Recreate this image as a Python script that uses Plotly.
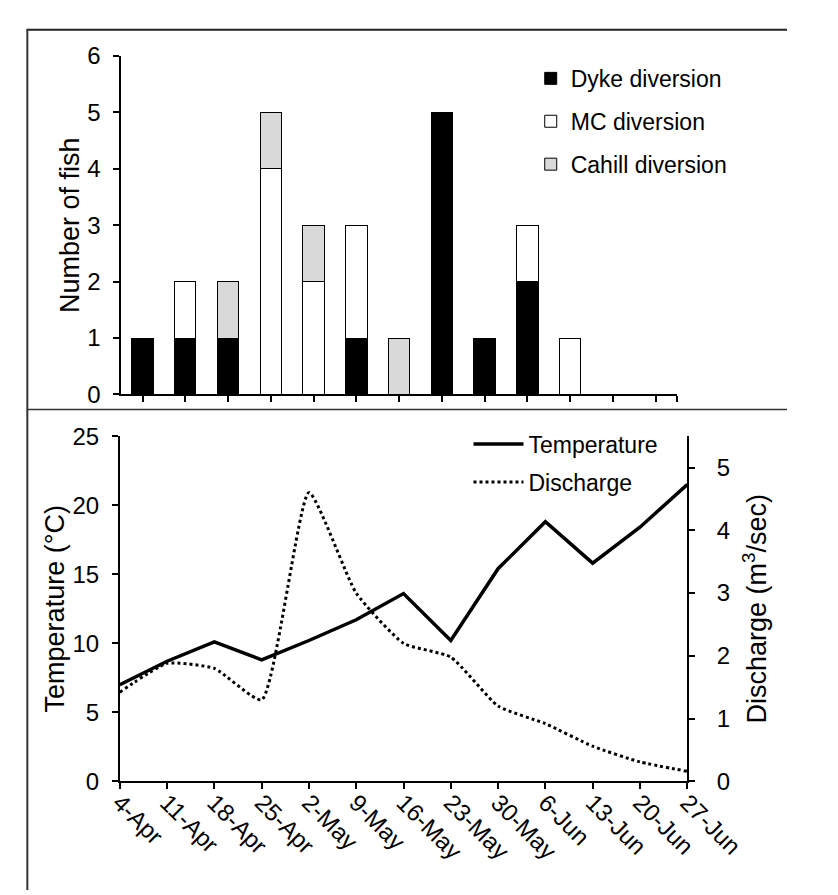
import plotly.graph_objects as go

# ---------------- data ----------------
weeks = ["4-Apr", "11-Apr", "18-Apr", "25-Apr", "2-May", "9-May", "16-May",
         "23-May", "30-May", "6-Jun", "13-Jun", "20-Jun", "27-Jun"]
dyke = [1, 1, 1, 0, 0, 1, 0, 5, 1, 2, 0, 0, 0]
mc = [0, 1, 0, 4, 2, 2, 0, 0, 0, 1, 1, 0, 0]
cahill = [0, 0, 1, 1, 1, 0, 1, 0, 0, 0, 0, 0, 0]
temperature = [7.0, 8.7, 10.1, 8.8, 10.2, 11.7, 13.6, 10.2, 15.4, 18.8, 15.8, 18.4, 21.5]
discharge = [1.42, 1.88, 1.80, 1.30, 4.60, 3.00, 2.20, 1.98, 1.20, 0.92, 0.56, 0.31, 0.16]

W, H = 838, 895
FONT = "Liberation Sans, Arial, sans-serif"


def px_x(p):
    return p / W


def px_y(p):
    return 1 - p / H


def nz(v):
    return [x if x else None for x in v]


idx = list(range(len(weeks)))

fig = go.Figure()

# ---------------- top panel: stacked bars ----------------
for name, vals, col in [("Dyke diversion", dyke, "black"),
                        ("MC diversion", mc, "white"),
                        ("Cahill diversion", cahill, "#d9d9d9")]:
    fig.add_trace(go.Bar(
        x=idx, y=nz(vals), name=name, xaxis="x", yaxis="y",
        marker=dict(color=col, line=dict(color="black", width=1)),
        width=0.5, legend="legend", legendgroup=name,
        customdata=weeks, hovertemplate="%{customdata}: %{y}<extra>" + name + "</extra>",
    ))

# ---------------- bottom panel: lines ----------------
fig.add_trace(go.Scatter(
    x=idx, y=temperature, name="Temperature", mode="lines",
    xaxis="x2", yaxis="y2", legend="legend2", legendgroup="t",
    line=dict(color="black", width=3.5),
))
fig.add_trace(go.Scatter(
    x=idx, y=discharge, name="Discharge", mode="lines",
    xaxis="x2", yaxis="y3", legend="legend2", legendgroup="d",
    line=dict(color="black", width=3, dash="dot", shape="spline", smoothing=0.5),
))

axis_common = dict(showline=True, linecolor="black", linewidth=1.5,
                   ticks="outside", ticklen=6, tickcolor="black", tickwidth=1.5,
                   showgrid=False, zeroline=False,
                   tickfont=dict(family=FONT, size=24, color="black"))
TITLE_FONT = dict(family=FONT, size=27, color="black")

fig.update_layout(
    width=W, height=H,
    margin=dict(l=0, r=0, t=0, b=0),
    paper_bgcolor="white", plot_bgcolor="white",
    font=dict(family=FONT, color="black"),
    barmode="stack",
    showlegend=True,
    xaxis=dict(domain=[px_x(110.5), px_x(718)], anchor="y", range=[-0.5, 12.5],
               tickvals=idx + [12.5], showticklabels=False, **axis_common),
    yaxis=dict(domain=[px_y(384), px_y(35)], anchor="x", range=[0, 6], dtick=1,
               ticklabelstandoff=8,
               title=dict(text="Number of fish", font=TITLE_FONT, standoff=0),
               **axis_common),
    xaxis2=dict(domain=[px_x(109), px_x(729)], anchor="y2", range=[0, 12],
                tickvals=idx, ticktext=weeks, tickangle=45, ticklabelstandoff=-10,
                **axis_common),
    yaxis2=dict(domain=[px_y(783), px_y(427)], anchor="x2", range=[0, 25], dtick=5,
                ticklabelstandoff=8,
                title=dict(text="Temperature (°C)", font=TITLE_FONT, standoff=0),
                **axis_common),
    yaxis3=dict(overlaying="y2", side="right", anchor="x2", range=[0, 5.5], dtick=1,
                ticklabelstandoff=17,
                title=dict(text="Discharge (m<sup>3</sup>/sec)", font=TITLE_FONT, standoff=18),
                **axis_common),
    legend=dict(x=px_x(558), y=px_y(36), xanchor="left", yanchor="top",
                font=dict(family=FONT, size=23, color="black"),
                traceorder="grouped", tracegroupgap=10, bgcolor="rgba(0,0,0,0)"),
    legend2=dict(x=px_x(490), y=px_y(413), xanchor="left", yanchor="top",
                 font=dict(family=FONT, size=23, color="black"), itemwidth=50,
                 traceorder="grouped", tracegroupgap=5, bgcolor="rgba(0,0,0,0)"),
    shapes=[
        dict(type="line", xref="paper", yref="paper", x0=px_x(8), x1=1.0, y0=px_y(8), y1=px_y(8),
             line=dict(color="#222222", width=2)),
        dict(type="line", xref="paper", yref="paper", x0=px_x(8), x1=px_x(8), y0=px_y(7), y1=0,
             line=dict(color="#333333", width=2)),
        dict(type="line", xref="paper", yref="paper", x0=px_x(8), x1=1.0, y0=px_y(399.5), y1=px_y(399.5),
             line=dict(color="#333333", width=1.5)),
    ],
)

fig.write_html("out.html")
